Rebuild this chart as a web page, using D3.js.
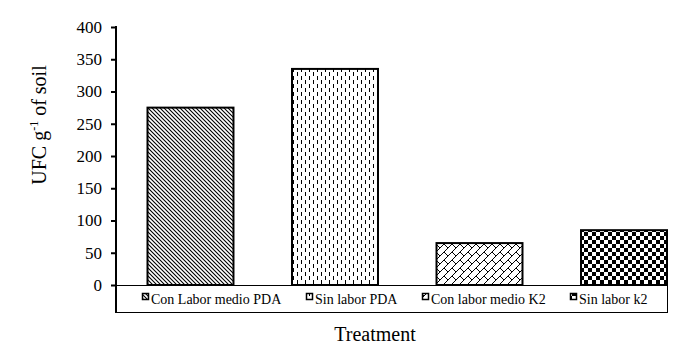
<!DOCTYPE html>
<html>
<head>
<meta charset="utf-8">
<script src="https://cdn.jsdelivr.net/npm/d3@7/dist/d3.min.js"></script>
<style>
    body { margin: 0; background: #fff; }
    svg text { font-family: "Liberation Serif", "Times New Roman", serif; fill: #000; }
</style>
</head>
<body>
<svg id="ChartSvg" width="695" height="352"></svg>
<script>
var treatments = ['Con Labor medio PDA', 'Sin labor PDA', 'Con labor medio K2', 'Sin labor k2']
var ufcValues = [275, 335, 65, 85]
var yTicks = [0, 50, 100, 150, 200, 250, 300, 350, 400]
var patternIds = ['diagDown', 'vertDash', 'diagBrick', 'checker']

var svg = d3.select("#ChartSvg")
var PlotLeft = 116, PlotRight = 667, PlotTop = 27, PlotBottom = 285, LegendBottom = 312

var defs = svg.append("defs")
// hatch fills, like the office-style bar patterns
var p1 = defs.append("pattern").attr("id", "diagDown").attr("patternUnits", "userSpaceOnUse")
    .attr("width", 4).attr("height", 4)
p1.append("rect").attr("width", 4).attr("height", 4).attr("fill", "#fff")
p1.append("path").attr("d", "M0,0L4,4M-1,3L1,5M3,-1L5,1").attr("stroke", "#000").attr("stroke-width", 1.1)

var p2 = defs.append("pattern").attr("id", "vertDash").attr("patternUnits", "userSpaceOnUse")
    .attr("width", 8).attr("height", 8)
p2.append("rect").attr("width", 8).attr("height", 8).attr("fill", "#fff")
p2.append("rect").attr("x", 1).attr("y", 0).attr("width", 1).attr("height", 4).attr("fill", "#000")
p2.append("rect").attr("x", 5).attr("y", 4).attr("width", 1).attr("height", 4).attr("fill", "#000")

var p3 = defs.append("pattern").attr("id", "diagBrick").attr("patternUnits", "userSpaceOnUse")
    .attr("width", 8).attr("height", 8)
p3.append("rect").attr("width", 8).attr("height", 8).attr("fill", "#fff")
p3.append("path").attr("d", "M-1,9L9,-1M4,4L8,8").attr("stroke", "#000").attr("stroke-width", 1)

var p4 = defs.append("pattern").attr("id", "checker").attr("patternUnits", "userSpaceOnUse")
    .attr("width", 8).attr("height", 8)
p4.append("rect").attr("width", 8).attr("height", 8).attr("fill", "#fff")
p4.append("rect").attr("x", 0).attr("y", 0).attr("width", 4).attr("height", 4).attr("fill", "#000")
p4.append("rect").attr("x", 4).attr("y", 4).attr("width", 4).attr("height", 4).attr("fill", "#000")

var xScale = d3.scaleBand()
    .domain(treatments)
    .range([PlotLeft, PlotRight])
    .paddingInner(0.405)
    .paddingOuter(0.109)
    .align(1)
var yScale = d3.scaleLinear()
    .domain([0, 400])
    .range([PlotBottom, PlotTop])

// legend box under the plot
svg.append("rect")
    .attr("x", PlotLeft + 0.5).attr("y", PlotBottom + 0.5)
    .attr("width", PlotRight - PlotLeft).attr("height", LegendBottom - PlotBottom)
    .attr("fill", "none").attr("stroke", "#000").attr("stroke-width", 1)

// bars
for (i = 0; i < treatments.length; i++) {
    svg.append("rect")
        .attr("class", "bar")
        .attr("x", xScale(treatments[i]))
        .attr("y", yScale(ufcValues[i]))
        .attr("width", xScale.bandwidth())
        .attr("height", yScale(0) - yScale(ufcValues[i]))
        .attr("fill", `url(#${patternIds[i]})`)
        .attr("stroke", "#000")
        .attr("stroke-width", 2)
}

// baseline
svg.append("line")
    .attr("x1", PlotLeft - 5).attr("x2", PlotRight)
    .attr("y1", yScale(0) + 0.5).attr("y2", yScale(0) + 0.5)
    .attr("stroke", "#000").attr("stroke-width", 1)

var yAxis = d3.axisLeft(yScale).tickValues(yTicks).tickSize(5).tickPadding(9)
var gY = svg.append("g")
    .attr("transform", `translate(${PlotLeft},0)`)
    .call(yAxis)
gY.attr("font-family", null).attr("font-size", null)
gY.select(".domain").remove()
gY.selectAll(".tick line").attr("stroke", "#000").attr("stroke-width", 2)
gY.selectAll(".tick text")
    .style("font-family", "'Liberation Serif', serif")
    .style("font-size", "17px")
svg.append("line")
    .attr("x1", PlotLeft).attr("x2", PlotLeft)
    .attr("y1", PlotTop - 1).attr("y2", LegendBottom + 1)
    .attr("stroke", "#000").attr("stroke-width", 2)

// legend entries
var legendX = [142, 306, 422, 570]
for (i = 0; i < treatments.length; i++) {
    svg.append("rect")
        .attr("x", legendX[i] + 0.5).attr("y", 293.5)
        .attr("width", 6).attr("height", 6)
        .attr("fill", `url(#${patternIds[i]})`)
        .attr("stroke", "#000").attr("stroke-width", 1.5)
    svg.append("text")
        .attr("x", legendX[i] + 9).attr("y", 303.5)
        .attr("font-size", "14px")
        .text(treatments[i])
}

// axis titles
svg.append("text")
    .attr("x", 375).attr("y", 341)
    .attr("text-anchor", "middle")
    .attr("font-size", "20px")
    .text("Treatment")

var yTitle = svg.append("text")
    .attr("transform", "translate(46,125) rotate(-90)")
    .attr("text-anchor", "middle")
    .attr("font-size", "20px")
yTitle.append("tspan").text("UFC g")
yTitle.append("tspan").attr("font-size", "12px").attr("dy", -8).text("-1")
yTitle.append("tspan").attr("dy", 8).text(" of soil")
</script>
</body>
</html>
